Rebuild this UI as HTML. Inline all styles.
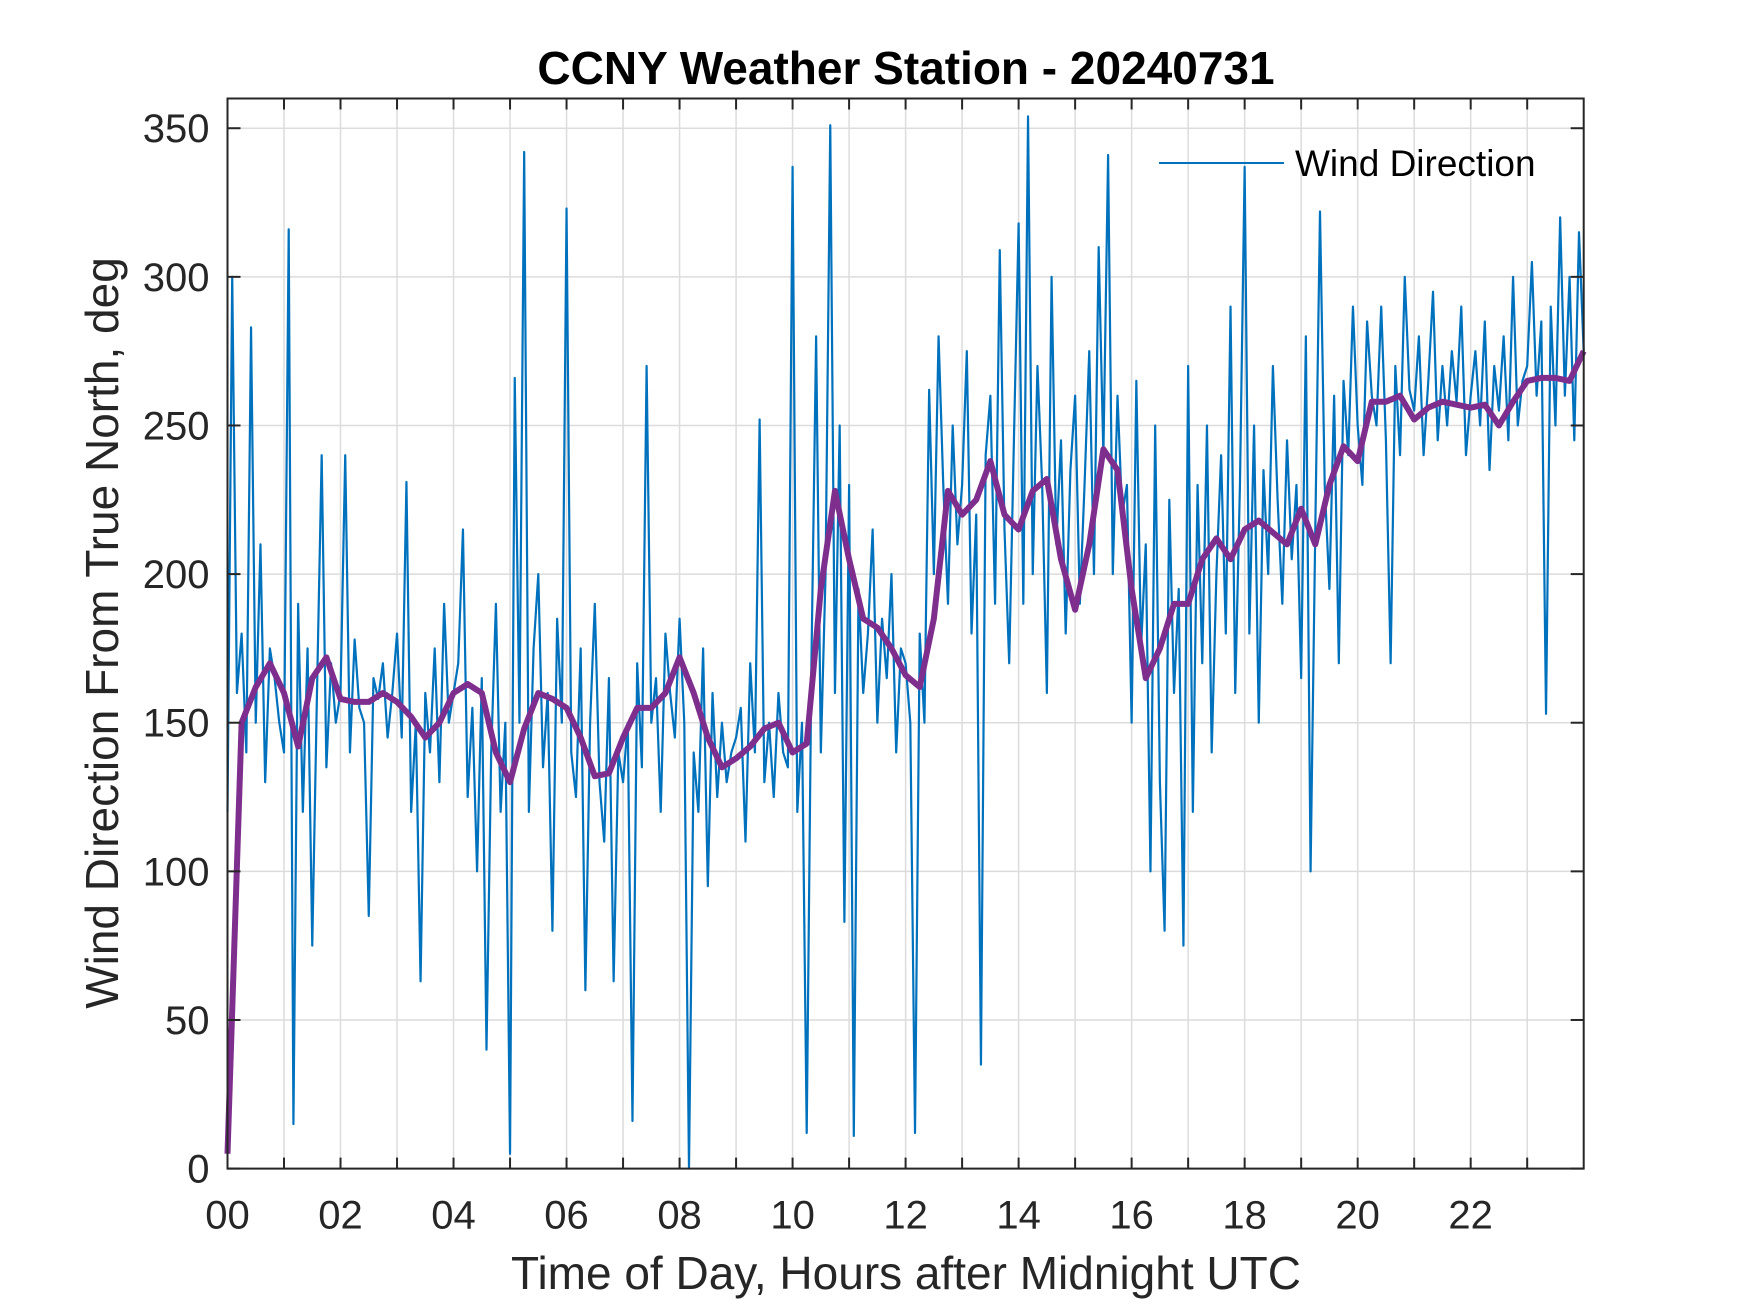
<!DOCTYPE html>
<html><head><meta charset="utf-8"><style>
html,body{margin:0;padding:0;background:#fff;}
svg{display:block;font-family:"Liberation Sans",Arial,sans-serif;}
</style></head><body>
<svg id="chart" width="1750" height="1313" viewBox="0 0 1750 1313" xmlns="http://www.w3.org/2000/svg">
<rect x="0" y="0" width="1750" height="1313" fill="#fff"/>
<g id="grid"></g>
<g id="series"></g>
<g id="axes"></g>
<text x="906" y="84" text-anchor="middle" font-size="46" font-weight="bold" fill="#000">CCNY Weather Station - 20240731</text>
<text x="906" y="1289" text-anchor="middle" font-size="46" fill="#262626">Time of Day, Hours after Midnight UTC</text>
<text transform="translate(118,633) rotate(-90)" text-anchor="middle" font-size="46" fill="#262626">Wind Direction From True North, deg</text>
<g>
<line x1="1159" y1="163" x2="1284" y2="163" stroke="#0072BD" stroke-width="2"/>
<text x="1295" y="176" font-size="37" fill="#000">Wind Direction</text>
</g>
</svg>
<script>
const rawValues = [
120,300,160,180,140,283,150,210,130,175,165,150,
140,316,15,190,120,175,75,160,240,135,170,150,
160,240,140,178,155,150,85,165,158,170,145,160,
180,145,231,120,150,63,160,140,175,130,190,150,
160,170,215,125,155,100,165,40,140,190,120,150,
5,266,150,342,120,175,200,135,160,80,185,150,
323,140,125,175,60,150,190,130,110,165,63,140,
130,150,16,170,135,270,150,165,120,180,160,145,
185,150,0,140,120,175,95,160,125,150,130,140,
145,155,110,170,140,252,130,150,125,160,140,135,
337,120,150,12,170,280,140,200,351,160,250,83,
230,11,195,160,180,215,150,185,165,200,140,175,
170,150,12,180,150,262,200,280,230,190,250,210,
230,275,180,220,35,240,260,190,309,215,170,245,
318,190,354,200,270,230,160,300,210,245,180,235,
260,190,230,275,200,310,240,341,200,260,220,230,
150,265,175,210,100,250,130,80,225,160,195,75,
270,120,230,170,250,140,200,240,180,290,160,230,
337,180,250,150,235,200,270,225,190,245,205,230,
165,280,100,215,322,230,195,260,170,265,240,290,
250,230,285,260,250,290,245,170,270,240,300,262,
255,280,240,265,295,245,270,250,275,258,290,240,
260,275,250,285,235,270,255,280,245,300,250,265,
270,305,260,285,153,290,250,320,260,300,245,315,275];
const rawStepHours = 5/60;
const smoothValues = [
5,150,162,170,160,142,165,172,158,157,157,160,
157,152,145,150,160,163,160,140,130,148,160,158,
155,145,132,133,145,155,155,160,172,160,145,135,
138,142,148,150,140,143,195,228,205,185,182,175,
166,162,185,228,220,225,238,220,215,228,232,205,
188,210,242,235,195,165,175,190,190,205,212,205,
215,218,214,210,222,210,230,243,238,258,258,260,
252,256,258,257,256,257,250,258,265,266,266,265,275];
const smoothStepHours = 0.25;
const xTicks = [0,2,4,6,8,10,12,14,16,18,20,22];
const xTickLabels = ["00","02","04","06","08","10","12","14","16","18","20","22"];
const yTicks = [0,50,100,150,200,250,300,350];
const yTickLabels = ["0","50","100","150","200","250","300","350"];

const L=227.5,R=1583.7,T=98.5,B=1168.6, XMAX=24, YMAX=360;
const xs=h=>L+(h/XMAX)*(R-L);
const ys=v=>B-(v/YMAX)*(B-T);
const NS="http://www.w3.org/2000/svg";
function mk(tag,attrs,parent){const e=document.createElementNS(NS,tag);for(const k in attrs)e.setAttribute(k,attrs[k]);parent.appendChild(e);return e;}
const grid=document.getElementById('grid'),series=document.getElementById('series'),axes=document.getElementById('axes');
for(let h=1;h<24;h++){
  const g=mk('line',{x1:xs(h),x2:xs(h),y1:T,y2:B,stroke:'#dcdcdc','stroke-width':1.5},grid);
  
  
  for(const [a,b] of [[B,B-11],[T,T+11]]){
    const t=mk('line',{x1:xs(h),x2:xs(h),y1:a,y2:b,stroke:'#262626','stroke-width':2},axes);
    
    
  }
}
yTicks.forEach((v,i)=>{
  if(v>0){const g=mk('line',{x1:L,x2:R,y1:ys(v),y2:ys(v),stroke:'#dcdcdc','stroke-width':1.5},grid);
  
  }
  for(const [a,b] of [[L,L+13],[R,R-13]]){
    const t=mk('line',{x1:a,x2:b,y1:ys(v),y2:ys(v),stroke:'#262626','stroke-width':2},axes);
    
    
  }
  const tx=mk('text',{x:L-18,y:ys(v)+14,'text-anchor':'end','font-size':40,fill:'#262626'},axes);
  tx.textContent=yTickLabels[i];
  
  
});
xTicks.forEach((h,i)=>{
  const tx=mk('text',{x:xs(h),y:B+60,'text-anchor':'middle','font-size':40,fill:'#262626'},axes);
  tx.textContent=xTickLabels[i];
  
  
});
const box=mk('rect',{x:L,y:T,width:R-L,height:B-T,fill:'none',stroke:'#262626','stroke-width':2},axes);


const rawPath=mk('polyline',{points:rawValues.map((v,i)=>xs(i*rawStepHours)+','+ys(v)).join(' '),fill:'none',stroke:'#0072BD','stroke-width':2.2,'stroke-linejoin':'round'},series);


const smPath=mk('polyline',{points:smoothValues.map((v,i)=>xs(i*smoothStepHours)+','+ys(v)).join(' '),fill:'none',stroke:'#7E2F8E','stroke-width':6,'stroke-linejoin':'round'},series);


</script>
</body></html>
